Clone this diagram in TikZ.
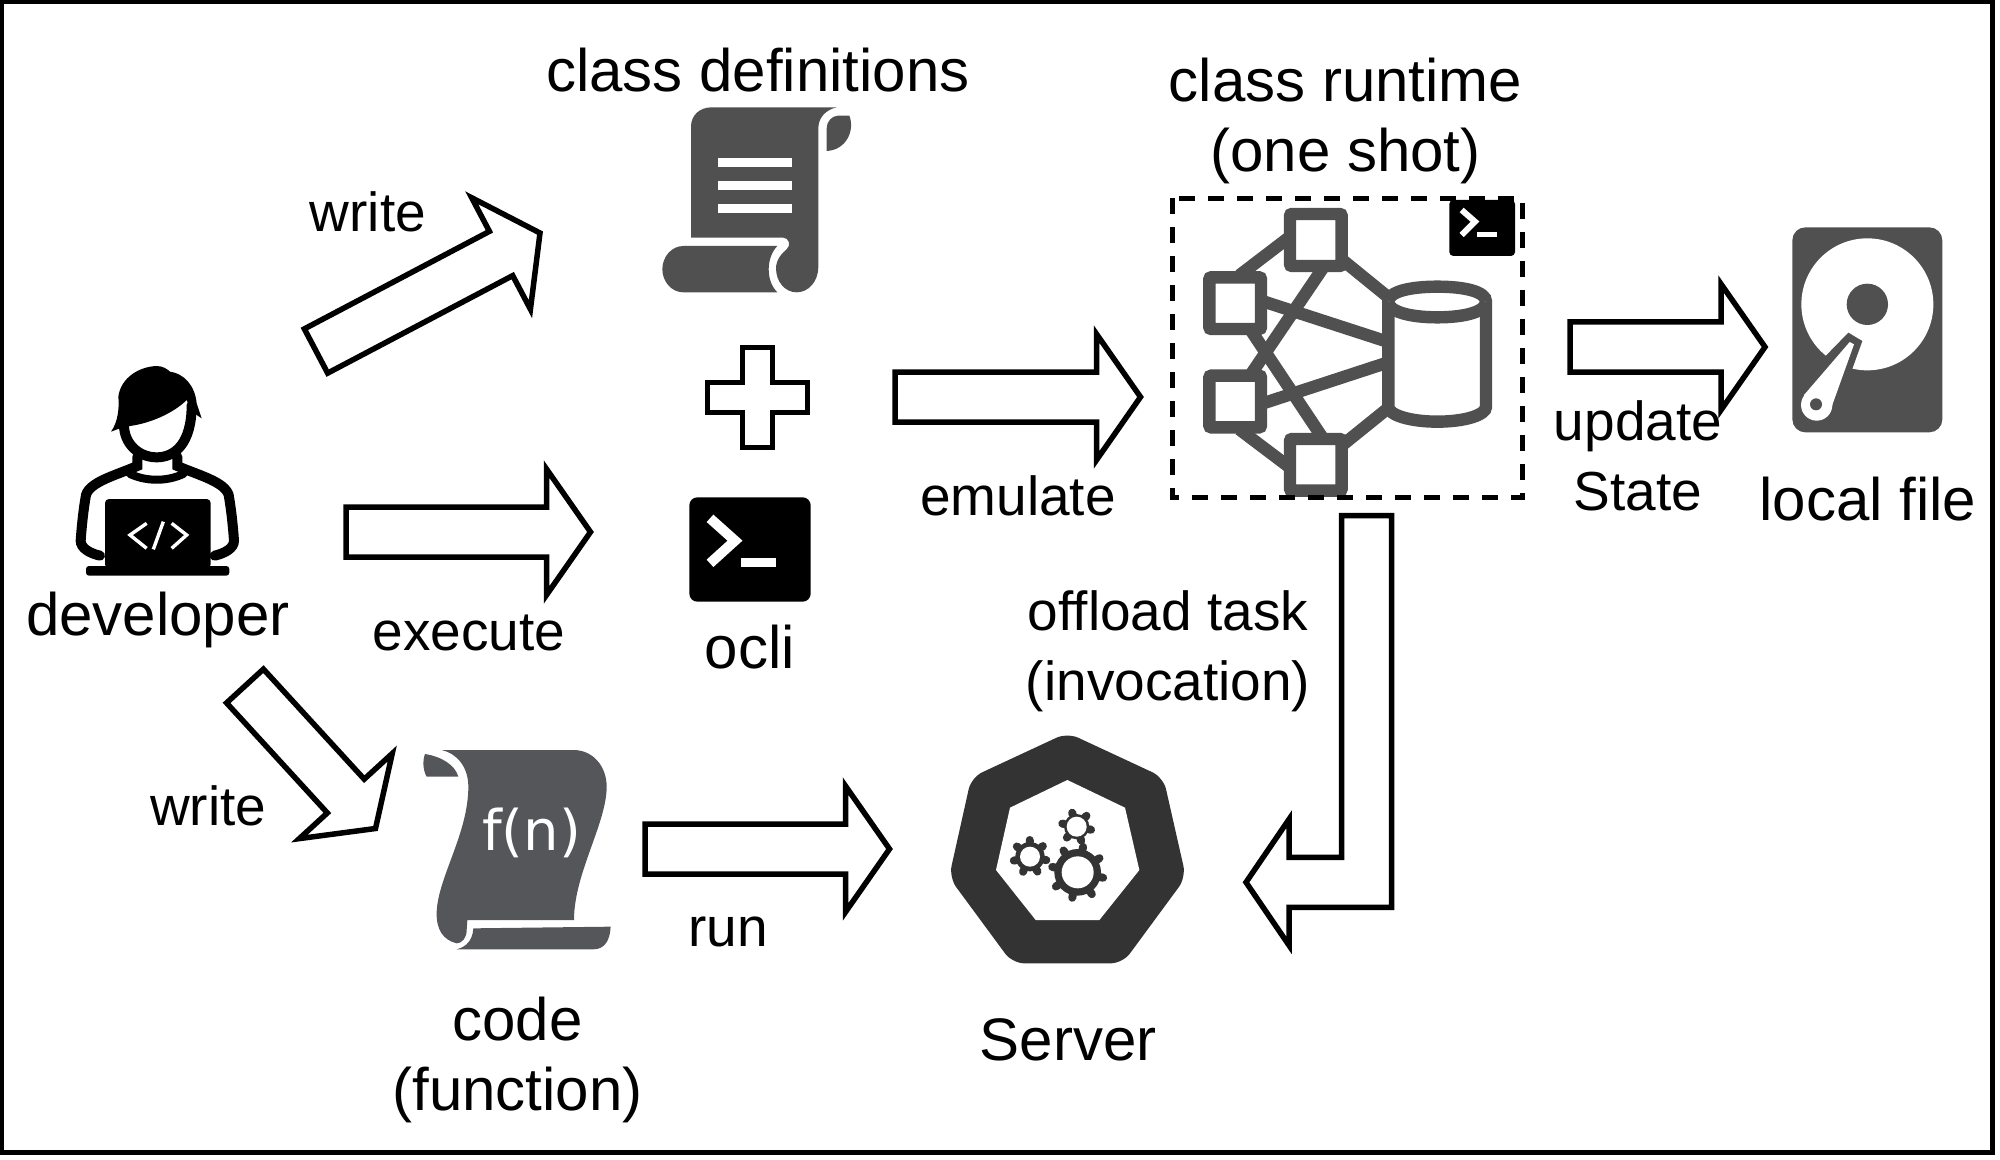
\documentclass[tikz,border=0pt]{standalone}
\usepackage{fontspec}
\setmainfont{Liberation Sans}
\newfontfamily\fnfont{DejaVu Sans}
\usetikzlibrary{positioning, calc}
\definecolor{icongray}{HTML}{505050}
\definecolor{fngray}{HTML}{54565A}
\definecolor{srvdark}{HTML}{333333}

\begin{document}
\begin{tikzpicture}[
  x=0.5pt, y=-0.5pt,
  iconbox/.style={inner sep=0pt, outer sep=0pt},
  lbl/.style={inner sep=0pt, outer sep=0pt, align=center, font=\fontsize{30}{35}\selectfont,
              execute at begin node=\strut, execute at end node=\strut},
  arrlbl/.style={lbl, font=\fontsize{27.5}{35}\selectfont},
  arrbody/.style={draw=black, fill=white, line width=2.75pt, line join=miter},
  arr/.style={arrbody, to path={
      ($(\tikztostart)!12.5pt!90:(\tikztotarget)$)
      -- ($($(\tikztotarget)!22pt!(\tikztostart)$)!12.5pt!90:(\tikztotarget)$)
      -- ($($(\tikztotarget)!22pt!(\tikztostart)$)!31.5pt!90:(\tikztotarget)$)
      -- (\tikztotarget)
      -- ($($(\tikztotarget)!22pt!(\tikztostart)$)!31.5pt!-90:(\tikztotarget)$)
      -- ($($(\tikztotarget)!22pt!(\tikztostart)$)!12.5pt!-90:(\tikztotarget)$)
      -- ($(\tikztostart)!12.5pt!-90:(\tikztotarget)$) -- cycle}},
  devline/.style={draw=black, line width=5pt, line cap=round},
  codeline/.style={draw=white, line width=1.7pt},
  hubline/.style={draw=icongray, line width=6.2pt},
  hubbox/.style={draw=icongray, fill=white, line width=6.2pt, rounded corners=1pt},
  prompt/.style={draw=white, line cap=butt, line join=miter},
]
\useasboundingbox (0,0) rectangle (2000,1160);

% Frame
\draw[black, line width=2.5pt] (1.5,1.8) rectangle (1992.5,1152.5);

% Icon boxes
\node[iconbox, minimum width=110pt, minimum height=120pt] (dev) at (160,470) {};
\node[iconbox, minimum width=120pt, minimum height=115pt] (defs) at (760,205) {};
\node[iconbox, minimum width=75pt, minimum height=140pt] (ocli) at (755,475) {};
\node[iconbox, minimum width=200pt, minimum height=165pt] (hub) at (1350,345) {};
\node[iconbox, minimum width=95pt, minimum height=120pt] (disk) at (1875,330) {};
\node[iconbox, minimum width=110pt, minimum height=120pt] (code) at (520,850) {};
\node[iconbox, minimum width=135pt, minimum height=130pt] (server) at (1065,850) {};

% Developer
\begin{scope}[shift={(dev.north west)}, scale=1/3]
  \fill[black] (183,245) .. controls (205,215) and (208,170) .. (205,140)
    .. controls (212,85) and (265,50) .. (320,48) .. controls (340,48) and (352,58) .. (360,65)
    .. controls (400,70) and (435,105) .. (440,160) -- (455,205)
    .. controls (435,195) and (420,175) .. (410,150) .. controls (370,190) and (300,220) .. (240,228)
    -- (215,233) -- cycle;
  \draw[devline] (222,225) .. controls (222,280) and (265,322) .. (320,322)
    .. controls (375,322) and (425,280) .. (425,165);
  \draw[devline] (262,320) -- (262,348) .. controls (200,375) and (120,395) .. (108,435)
    .. controls (100,480) and (95,530) .. (92,572) .. controls (92,595) and (120,610) .. (150,617);
  \draw[devline] (382,320) -- (382,348) .. controls (444,375) and (524,395) .. (536,435)
    .. controls (544,480) and (549,530) .. (552,572) .. controls (552,595) and (524,610) .. (494,617);
  \draw[devline, line width=4pt] (240,372) .. controls (290,395) and (350,395) .. (400,372);
  \fill[black, rounded corners=2pt] (165,447) rectangle (482,655);
  \fill[black, rounded corners=1.5pt] (108,648) rectangle (538,677);
  \draw[codeline] (290,520) -- (240,555) -- (290,595);
  \draw[codeline] (340,515) -- (310,598);
  \draw[codeline] (365,520) -- (410,555) -- (365,595);
\end{scope}
\node[lbl, below=-1.8pt of dev, xshift=-1pt] (devlbl) {developer};

% Class definitions
\begin{scope}[shift={(defs.north west)}, scale=1/3]
  \fill[icongray] (215,52) -- (590,52) .. controls (555,60) and (535,85) .. (535,115) -- (535,530)
    .. controls (535,575) and (505,607) .. (470,607) .. controls (435,607) and (408,575) .. (408,535)
    .. controls (408,510) and (425,490) .. (440,478) .. controls (455,465) and (445,443) .. (430,443)
    -- (153,443) -- (153,110) .. controls (153,75) and (180,52) .. (215,52) -- cycle;
  \fill[icongray] (130,468) -- (412,468) .. controls (380,500) and (375,570) .. (412,607)
    -- (130,607) .. controls (95,607) and (67,575) .. (67,538) .. controls (67,500) and (95,468) .. (130,468) -- cycle;
  \fill[icongray] (560,183) -- (560,115) .. controls (560,95) and (575,77) .. (595,77) -- (628,77)
    .. controls (645,120) and (620,180) .. (560,183) -- cycle;
  \fill[white] (235,205) rectangle (455,231);
  \fill[white] (235,273) rectangle (455,299);
  \fill[white] (235,342) rectangle (455,368);
\end{scope}
\node[lbl, above=-11.3pt of defs, xshift=-1pt] (defslbl) {class definitions};

% Plus and ocli
\begin{scope}[shift={(ocli.north west)}, scale=1/3]
  \draw[black, line width=2.2pt, fill=white] (187,37) -- (278,37) -- (278,142) -- (382,142) -- (382,232)
    -- (278,232) -- (278,337) -- (187,337) -- (187,232) -- (82,232) -- (82,142) -- (187,142) -- cycle;
  \fill[black, rounded corners=4pt] (28,487) rectangle (392,800);
  \draw[prompt, line width=5pt] (90,550) -- (165,617) -- (90,685);
  \fill[white] (183,670) rectangle (288,695);
\end{scope}
\node[lbl, below=2.2pt of ocli, xshift=-2.5pt] (oclilbl) {ocli};

% Class runtime
\begin{scope}[shift={(hub.north west)}, scale=1/3]
  \draw[hubline] (420,170) -- (268,286);
  \draw[hubline] (575,238) -- (720,356);
  \draw[hubline] (333,362) -- (715,486);
  \draw[hubline] (333,672) -- (715,547);
  \draw[hubline] (520,262) -- (300,587);
  \draw[hubline] (300,447) -- (520,777);
  \draw[hubline] (268,748) -- (420,863);
  \draw[hubline] (575,797) -- (720,680);
  \draw[hubbox] (178,292) rectangle (333,447);
  \draw[hubbox] (178,587) rectangle (333,742);
  \draw[hubbox] (420,102) rectangle (575,258);
  \draw[hubbox] (420,777) rectangle (575,932);
  \draw[hubbox, rounded corners=0pt] (715,365) .. controls (715,335) and (780,320) .. (862,320)
    .. controls (945,320) and (1008,335) .. (1008,365) -- (1008,680)
    .. controls (1008,705) and (945,725) .. (862,725) .. controls (780,725) and (715,705) .. (715,680) -- cycle;
  \draw[hubbox, rounded corners=0pt] (715,365) .. controls (715,395) and (780,412) .. (862,412)
    .. controls (945,412) and (1008,395) .. (1008,365);
  \draw[black, line width=2.75pt, dash pattern=on 8pt off 6.5pt] (68,55) rectangle (1117,953);
  \fill[black, rounded corners=2pt] (898,60) rectangle (1095,228);
  \draw[prompt, line width=3pt] (935,90) -- (975,125) -- (935,165);
  \fill[white] (982,155) rectangle (1040,170);
\end{scope}
\node[lbl, above=-6.3pt of hub, xshift=-2.25pt] (hublbl) {class runtime\\(one shot)};

% Local file
\begin{scope}[shift={(disk.north west)}, scale=1/3]
  \fill[icongray, rounded corners=6.5pt] (37,52) rectangle (487,667);
  \fill[white] (262,283) circle (198);
  \fill[icongray] (262,283) circle (62);
  \fill[icongray] (130,445) -- (205,368) -- (247,393) -- (212,490) -- (130,600) -- cycle;
  \fill[white] (72,555) -- (209,396) -- (222,403) -- (155,590) -- (110,630) -- cycle;
  \fill[white] (110,585) circle (47);
  \fill[icongray] (108,583) circle (18);
\end{scope}
\node[lbl, below=10.7pt of disk, xshift=-3.6pt] (disklbl) {local file};

% Code
\begin{scope}[shift={(code.north west)}, scale=1/3]
  \fill[fngray] (95,60) -- (490,60) .. controls (550,60) and (590,110) .. (590,170)
    .. controls (590,280) and (492,430) .. (492,570) -- (172,570) -- (170,600)
    .. controls (170,625) and (155,640) .. (140,640) .. controls (100,630) and (78,600) .. (80,545)
    .. controls (85,440) and (175,310) .. (175,170) .. controls (175,110) and (140,70) .. (95,60) -- cycle;
  \fill[fngray] (190,595) -- (602,590) .. controls (600,630) and (585,658) .. (550,658) -- (140,658)
    .. controls (170,650) and (188,630) .. (190,595) -- cycle;
  \fill[fngray] (45,72) .. controls (95,80) and (135,105) .. (145,140) -- (50,140)
    .. controls (38,120) and (38,90) .. (45,72) -- cycle;
  \node[white, font=\fnfont\fontsize{28}{30}\selectfont] (fn) at (365,310) {f(n)};
\end{scope}
\node[lbl, below=13.65pt of code, xshift=-1.2pt] (codelbl) {code\\(function)};

% Server
\begin{scope}[shift={(server.north west)}, scale=1/3]
  \fill[srvdark, rounded corners=6pt] (412,38) -- (700,172) -- (768,472) -- (578,730) -- (247,730)
    -- (57,472) -- (124,172) -- cycle;
  \fill[white] (412,180) -- (585,263) -- (628,450) -- (508,600) -- (317,600) -- (198,450) -- (240,263) -- cycle;
  \foreach \gx/\gy/\gh/\gb/\gt/\gn in {443/457/48/70/78/8, 300/410/30/44/50/7, 440/320/30/38/44/6} {
    \fill[srvdark] (\gx,\gy) circle (\gb);
    \foreach \k in {1,...,\gn}
      \draw[srvdark, line width=4pt, line cap=round] (\gx,\gy) +(\k*360/\gn+12:\gb) -- +(\k*360/\gn+12:\gt);
    \fill[white] (\gx,\gy) circle (\gh);
  }
\end{scope}
\node[lbl, below=15.7pt of server, xshift=1.5pt] (serverlbl) {Server};

% Arrow ends
\coordinate (wrtopA) at (316,351);
\coordinate (wrtopB) at (540,233);
\coordinate (execA) at (346,532);
\coordinate (execB) at (590.5,532);
\coordinate (emuA) at (895,397);
\coordinate (emuB) at (1140.5,397);
\coordinate (updA) at (1570,347);
\coordinate (updB) at (1765,347);
\coordinate (wrlowA) at (245,686);
\coordinate (wrlowB) at (375.5,828.5);
\coordinate (runA) at (645,849);
\coordinate (runB) at (889.5,849);
\coordinate (offtop) at (1366.7,515.5);
\coordinate (offtip) at (1246,882.3);

% Arrows
\draw[arr] (wrtopA) to (wrtopB);
\draw[arr] (execA) to (execB);
\draw[arr] (emuA) to (emuB);
\draw[arr] (updA) to (updB);
\draw[arr] (wrlowA) to (wrlowB);
\draw[arr] (runA) to (runB);
\draw[arrbody] ($(offtop)+(-25,0)$) -- ($(offtop)+(25,0)$) |- ($(offtip)+(43,25)$)
  -- ($(offtip)+(43,63)$) -- (offtip) -- ($(offtip)+(43,-63)$) -- ($(offtip)+(43,-25)$)
  -| ($(offtop)+(-25,0)$) -- cycle;

% Arrow labels
\node[arrlbl, above=49.4pt of wrtopA, xshift=26pt] (wrtoplbl) {write};
\node[arrlbl, below=34.6pt of execA, xshift=61.5pt] (execlbl) {execute};
\node[arrlbl, below=34.6pt of emuA, xshift=61.5pt] (emulbl) {emulate};
\node[arrlbl, below=26.85pt of updA, xshift=34pt] (updlbl) {update\\State};
\node[arrlbl, below=45.3pt of wrlowA, xshift=-18.4pt] (wrlowlbl) {write};
\node[arrlbl, below=24.1pt of runA, xshift=41.5pt] (runlbl) {run};
\node[arrlbl, below=37.8pt of offtop, xshift=-99.3pt] (offlbl) {offload task\\(invocation)};

\end{tikzpicture}
\end{document}
